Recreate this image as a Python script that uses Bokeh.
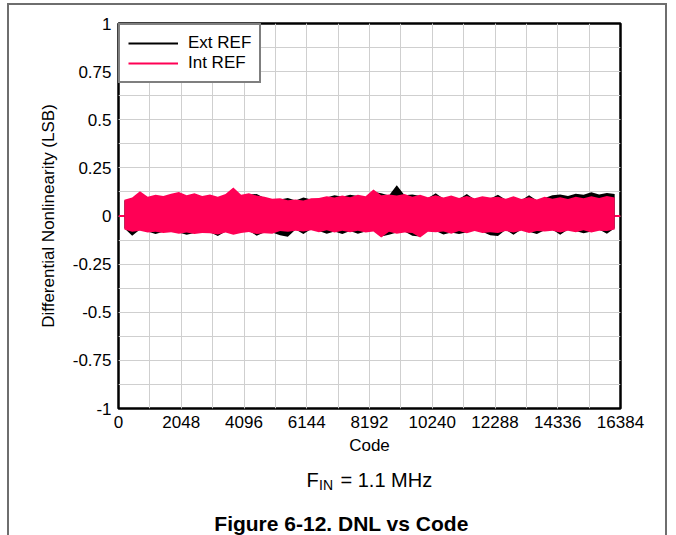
import math
from bokeh.plotting import figure
from bokeh.layouts import column
from bokeh.models import Range1d, FixedTicker, Legend, LegendItem
from bokeh.core.properties import value
from bokeh.embed import file_html
from bokeh.resources import INLINE

# ---------------- data ----------------
codes = list(range(192, 16195, 254))           # sample codes along the band
code_min, code_max = 0, 16384

int_upper = [0.085, 0.096, 0.128, 0.100, 0.110, 0.104, 0.116, 0.125, 0.108, 0.118, 0.104, 0.112, 0.100, 0.114, 0.148, 0.110,
             0.118, 0.106, 0.100, 0.090, 0.092, 0.082, 0.086, 0.080, 0.092, 0.094, 0.102, 0.096, 0.106, 0.098, 0.110, 0.102,
             0.138, 0.108, 0.112, 0.106, 0.114, 0.100, 0.110, 0.098, 0.108, 0.096, 0.106, 0.094, 0.104, 0.092, 0.102, 0.096,
             0.100, 0.090, 0.102, 0.088, 0.098, 0.086, 0.100, 0.090, 0.098, 0.088, 0.100, 0.092, 0.102, 0.094, 0.104, 0.096]
int_lower = [-0.070, -0.082, -0.076, -0.086, -0.082, -0.088, -0.084, -0.092, -0.086, -0.094, -0.088, -0.090, -0.096, -0.086, -0.098, -0.088,
             -0.083, -0.094, -0.090, -0.092, -0.078, -0.082, -0.076, -0.080, -0.074, -0.084, -0.074, -0.086, -0.076, -0.084, -0.076, -0.086,
             -0.080, -0.112, -0.082, -0.092, -0.086, -0.088, -0.112, -0.082, -0.084, -0.080, -0.092, -0.078, -0.090, -0.078, -0.088, -0.084,
             -0.088, -0.078, -0.086, -0.076, -0.088, -0.078, -0.080, -0.076, -0.086, -0.076, -0.084, -0.074, -0.086, -0.076, -0.078, -0.070]
ext_upper = [0.080, 0.090, 0.110, 0.094, 0.104, 0.098, 0.110, 0.112, 0.102, 0.112, 0.098, 0.106, 0.094, 0.108, 0.125, 0.104,
             0.112, 0.114, 0.094, 0.084, 0.086, 0.094, 0.080, 0.096, 0.086, 0.088, 0.096, 0.108, 0.100, 0.110, 0.104, 0.096,
             0.126, 0.118, 0.106, 0.160, 0.108, 0.112, 0.104, 0.092, 0.118, 0.090, 0.100, 0.088, 0.114, 0.086, 0.096, 0.090,
             0.110, 0.084, 0.096, 0.082, 0.108, 0.080, 0.094, 0.108, 0.112, 0.104, 0.116, 0.110, 0.124, 0.112, 0.120, 0.114]
ext_lower = [-0.064, -0.102, -0.070, -0.080, -0.094, -0.082, -0.078, -0.086, -0.098, -0.088, -0.082, -0.084, -0.104, -0.080, -0.092, -0.082,
             -0.077, -0.102, -0.084, -0.086, -0.100, -0.108, -0.070, -0.094, -0.068, -0.078, -0.092, -0.080, -0.094, -0.078, -0.092, -0.080,
             -0.074, -0.106, -0.098, -0.086, -0.080, -0.102, -0.106, -0.076, -0.078, -0.096, -0.086, -0.094, -0.084, -0.072, -0.082, -0.100,
             -0.104, -0.072, -0.098, -0.070, -0.082, -0.094, -0.074, -0.070, -0.098, -0.070, -0.078, -0.090, -0.080, -0.070, -0.092, -0.064]

x_ticks = [0, 2048, 4096, 6144, 8192, 10240, 12288, 14336, 16384]
x_minor = list(range(0, 16385, 1024))
y_ticks = [-1, -0.75, -0.5, -0.25, 0, 0.25, 0.5, 0.75, 1]
y_tick_labels = ["-1", "-0.75", "-0.5", "-0.25", "0", "0.25", "0.5", "0.75", "1"]
y_minor = [v / 8 for v in range(-8, 9)]

series_names = ["Ext REF", "Int REF"]
series_colors = ["#000000", "#ff0055"]

FONT = "Liberation Sans"
W = 656

# ---------------- main figure ----------------
p = figure(width=W, height=455, output_backend="svg", toolbar_location=None,
           x_range=Range1d(code_min, code_max), y_range=Range1d(-1, 1),
           min_border_left=109, min_border_right=45, min_border_top=18,
           min_border_bottom=52)
p.background_fill_color = "white"
p.border_fill_color = "white"
p.outline_line_color = "black"
p.outline_line_width = 2.5

p.xaxis.ticker = FixedTicker(ticks=x_ticks, minor_ticks=x_minor)
p.yaxis.ticker = FixedTicker(ticks=y_ticks, minor_ticks=y_minor)
p.yaxis.major_label_overrides = {t: s for t, s in zip(y_ticks, y_tick_labels)}

for ax in (p.xaxis[0], p.yaxis[0]):
    ax.axis_line_color = None
    ax.major_tick_line_color = None
    ax.minor_tick_line_color = None
    ax.major_tick_out = 0
    ax.major_tick_in = 0
    ax.minor_tick_out = 0
    ax.major_label_standoff = 7
    ax.major_label_text_font = FONT
    ax.major_label_text_font_size = "17px"
    ax.major_label_text_color = "black"
    ax.axis_label_text_font = FONT
    ax.axis_label_text_font_size = "17px"
    ax.axis_label_text_font_style = "normal"
    ax.axis_label_text_color = "black"

p.xaxis.axis_label = "Code"
p.xaxis.axis_label_standoff = 5
p.yaxis.axis_label = "Differential Nonlinearity (LSB)"
p.yaxis.axis_label_standoff = 12

for g in (p.xgrid[0], p.ygrid[0]):
    g.grid_line_color = "#cfcfcf"
    g.grid_line_width = 1
    g.minor_grid_line_color = "#cfcfcf"
    g.minor_grid_line_width = 1

nan = float("nan")
idle_x = [code_min, codes[0], nan, codes[-1], code_max]
idle_y = [0, 0, nan, 0, 0]

bands = [(ext_upper, ext_lower), (int_upper, int_lower)]
legend_items = []
for name, color, (up, lo) in zip(series_names, series_colors, bands):
    p.varea(x=codes, y1=lo, y2=up, fill_color=color, fill_alpha=1.0)
    ln = p.line(x=idle_x, y=idle_y, line_color=color, line_width=2)
    legend_items.append(LegendItem(label=name, renderers=[ln]))

legend = Legend(items=legend_items, location="top_left")
legend.margin = 0
legend.padding = 8
legend.spacing = 0
legend.glyph_width = 50
legend.glyph_height = 20
legend.label_height = 20
legend.label_width = 63
legend.label_standoff = 10
legend.label_text_font = FONT
legend.label_text_font_size = "17px"
legend.label_text_color = "black"
legend.border_line_color = "black"
legend.border_line_width = 2
legend.background_fill_color = "white"
legend.background_fill_alpha = 1.0
p.add_layout(legend)

# ---------------- caption strip (its frame is aligned with the plot frame) ----------------
H2 = 75
cap = figure(width=W, height=H2, output_backend="svg", toolbar_location=None,
             x_range=Range1d(118, 620), y_range=Range1d(535, 460),
             x_axis_type=None, y_axis_type=None,
             min_border_left=109, min_border_right=45, min_border_top=0, min_border_bottom=0)
cap.title.visible = False
cap.outline_line_color = None
cap.background_fill_color = "white"
cap.border_fill_color = "white"

cap.text(x=[306], y=[479], text=["F"], text_font=value(FONT), text_font_size="20px",
         text_color="black", text_baseline="alphabetic", text_align="left")
cap.text(x=[318.5], y=[484], text=["IN"], text_font=value(FONT), text_font_size="14px",
         text_color="black", text_baseline="alphabetic", text_align="left")
cap.text(x=[340], y=[479], text=["= 1.1 MHz"], text_font=value(FONT), text_font_size="20px",
         text_color="black", text_baseline="alphabetic", text_align="left")
cap.text(x=[341], y=[523], text=["Figure 6-12. DNL vs Code"], text_font=value(FONT),
         text_font_size="21px", text_font_style="bold", text_color="black",
         text_baseline="alphabetic", text_align="center")

frame_css = "2px solid #6e6e6e"
page = column(p, cap, spacing=0,
              styles={"margin-left": "7px", "margin-top": "3px",
                      "border-top": frame_css, "border-left": frame_css,
                      "border-right": frame_css})

open("out.html", "w").write(file_html(page, INLINE))
